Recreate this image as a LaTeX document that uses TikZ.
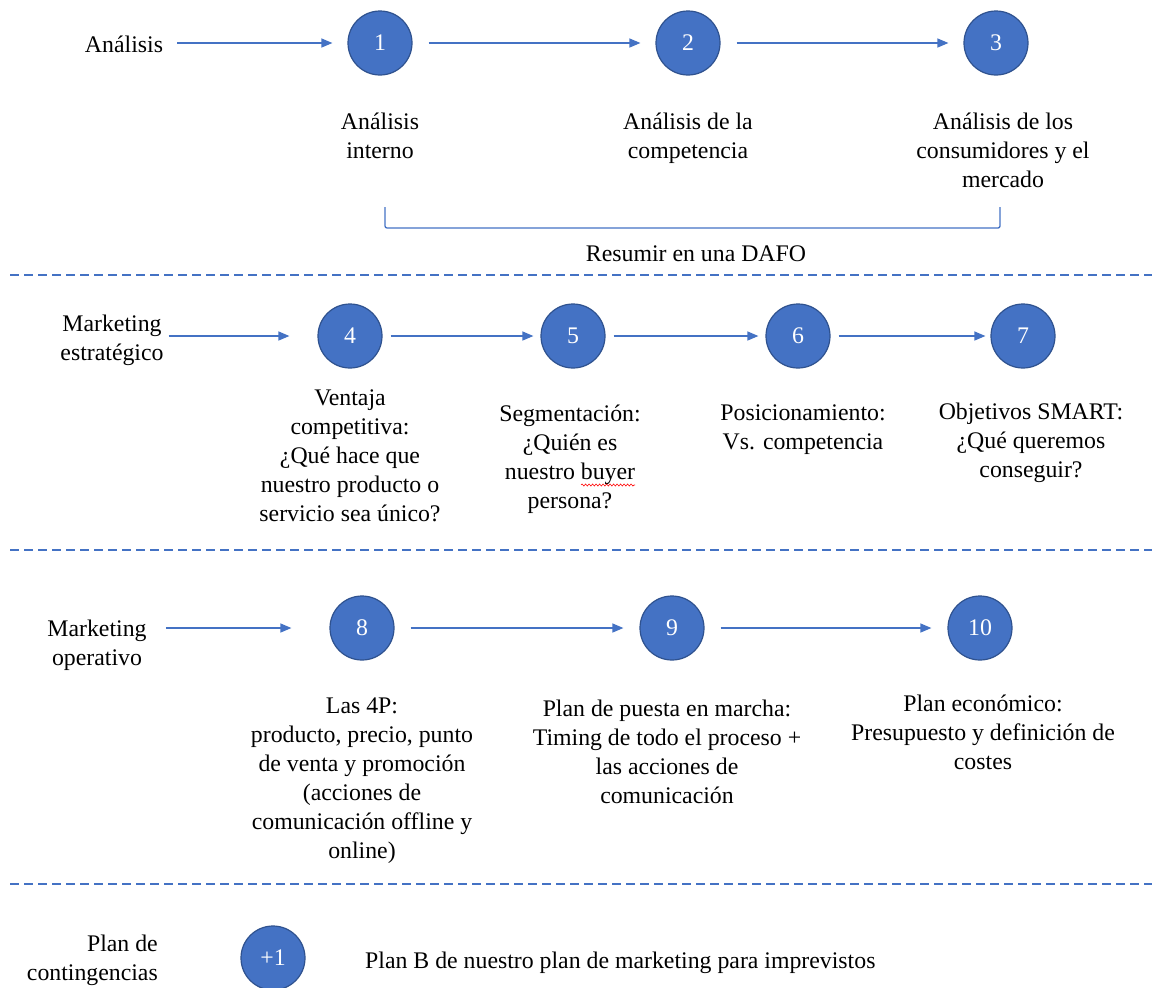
\documentclass[tikz,border=0pt]{standalone}
\usepackage{fontspec}
\setmainfont{Liberation Serif}
\usetikzlibrary{arrows.meta,decorations.pathmorphing}
\definecolor{blu}{HTML}{4472C4}
\definecolor{bluedge}{HTML}{2F528F}
\newcommand\Tstrut{\rule{0pt}{24pt}}
\begin{document}
\begin{tikzpicture}[x=1pt,y=-1pt,
  txt/.style={font=\fontsize{23.8}{29}\selectfont, inner sep=0pt, align=center, anchor=north},
  numc/.style={circle, fill=blu, draw=bluedge, line width=1.2pt, minimum size=64pt, inner sep=0pt, text=white, font=\fontsize{23.8}{29}\selectfont},
  arr/.style={draw=blu, line width=1.3pt, -{Triangle[length=11pt,width=9pt]}},
  sep/.style={draw=blu, line width=1.2pt, dash pattern=on 9pt off 5pt},
  wavy/.style={draw=red, line width=0.6pt, decorate, decoration={snake, amplitude=1pt, segment length=3.5pt}},
]
\useasboundingbox (0,0) rectangle (1152,988);

% ---- Row 1: Análisis
\node[txt] (an) at (124,28) {\Tstrut Análisis};
\node[numc] (c1) at (380,43) {1};
\node[numc] (c2) at (688,43) {2};
\node[numc] (c3) at (996,43) {3};
\draw[arr] ([xshift=14pt]an.east |- c1.west) -- ([xshift=-15pt]c1.west);
\draw[arr, shorten <=16pt, shorten >=15pt] (c1) -- (c2);
\draw[arr, shorten <=16pt, shorten >=15pt] (c2) -- (c3);
\node[txt] (l1) at (380,105) {\Tstrut Análisis\\interno};
\node[txt] (l2) at (688,105) {\Tstrut Análisis de la\\competencia};
\node[txt] (l3) at (1003,105) {\Tstrut Análisis de los\\consumidores y el\\mercado};
\draw[draw=blu, line width=1.3pt, rounded corners=2pt] (385,207) -- (385,228) -- (1000,228) -- (1000,207);
\node[txt] (dafo) at (696,237) {\Tstrut Resumir en una DAFO};

\draw[sep] (10,275) -- (1152,275);

% ---- Row 2: Marketing estratégico
\node[txt] (me) at (112,307) {\Tstrut Marketing\\estratégico};
\node[numc] (c4) at (350,336) {4};
\node[numc] (c5) at (573,336) {5};
\node[numc] (c6) at (798,336) {6};
\node[numc] (c7) at (1023,336) {7};
\draw[arr] ([xshift=5pt]me.east |- c4.west) -- ([xshift=-28pt]c4.west);
\draw[arr, shorten <=8pt, shorten >=7pt] (c4) -- (c5);
\draw[arr, shorten <=8pt, shorten >=7pt] (c5) -- (c6);
\draw[arr, shorten <=8pt, shorten >=5pt] (c6) -- (c7);
\node[txt] (l4) at (350,381) {\Tstrut Ventaja\\competitiva:\\¿Qué hace que\\nuestro producto o\\servicio sea único?};
\node[txt] (l5) at (570,397) {\Tstrut Segmentación:\\¿Quién es\\nuestro buyer\\persona?};
\draw[wavy] (581,485) -- (635,485);
\node[txt] (l6) at (803,396) {\Tstrut Posicionamiento:\\Vs. competencia};
\node[txt] (l7) at (1031,395) {\Tstrut Objetivos SMART:\\¿Qué queremos\\conseguir?};

\draw[sep] (10,550) -- (1152,550);

% ---- Row 3: Marketing operativo
\node[txt] (mo) at (97,612) {\Tstrut Marketing\\operativo};
\node[numc] (c8) at (362,628) {8};
\node[numc] (c9) at (672,628) {9};
\node[numc] (c10) at (980,628) {10};
\draw[arr] ([xshift=19pt]mo.east |- c8.west) -- ([xshift=-38pt]c8.west);
\draw[arr, shorten <=16pt, shorten >=16pt] (c8) -- (c9);
\draw[arr, shorten <=16pt, shorten >=16pt] (c9) -- (c10);
\node[txt] (l8) at (362,689) {\Tstrut Las 4P:\\producto, precio, punto\\de venta y promoción\\(acciones de\\comunicación offline y\\online)};
\node[txt] (l9) at (667,692) {\Tstrut Plan de puesta en marcha:\\Timing de todo el proceso +\\las acciones de\\comunicación};
\node[txt] (l10) at (983,687) {\Tstrut Plan económico:\\Presupuesto y definición de\\costes};

\draw[sep] (10,884) -- (1152,884);

% ---- Row 4: Plan de contingencias
\node[txt, align=right, anchor=north east] (pc) at (158,927) {\Tstrut Plan de\\contingencias};
\node[numc] (c11) at (273,958) {+1};
\node[txt, anchor=north west] (pb) at (365,944) {\Tstrut Plan B de nuestro plan de marketing para imprevistos};
\end{tikzpicture}
\end{document}
